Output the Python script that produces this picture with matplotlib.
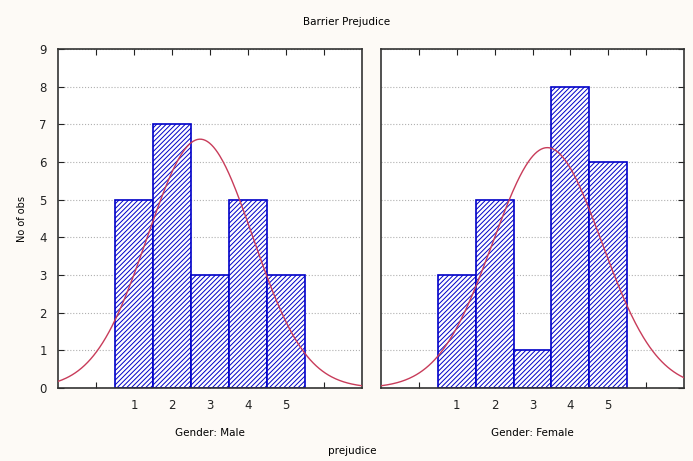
import numpy as np
import matplotlib.pyplot as plt

# prejudice scores and counts per gender
scores = [1, 2, 3, 4, 5]
male_counts = [5, 7, 3, 5, 3]
female_counts = [3, 5, 1, 8, 6]
panels = [("Gender: Male", male_counts), ("Gender: Female", female_counts)]

plt.rcParams['hatch.color'] = '#3a3a96'
plt.rcParams['hatch.linewidth'] = 0.7

fig = plt.figure(figsize=(6.93, 4.61), dpi=100, facecolor='#fdfaf6')
positions = [[0.0837, 0.1583, 0.4387, 0.7354], [0.5498, 0.1583, 0.4372, 0.7354]]

for i, (label, counts) in enumerate(panels):
    ax = fig.add_axes(positions[i])
    ax.set_facecolor('white')
    ax.bar(scores, counts, width=1.0, facecolor='white', edgecolor='#0000c8',
           hatch='///////', linewidth=1.2, zorder=2)

    # fitted normal curve scaled to counts
    obs = np.repeat(scores, counts)
    mu, sd = obs.mean(), obs.std(ddof=1)
    xs = np.linspace(-1, 7, 300)
    ys = len(obs) / (sd * np.sqrt(2 * np.pi)) * np.exp(-0.5 * ((xs - mu) / sd) ** 2)
    ax.plot(xs, ys, color='#c83c5a', linewidth=1.0, zorder=3)

    ax.set_xlim(-1, 7)
    ax.set_ylim(0, 9)
    ax.set_xticks(range(0, 7))
    ax.set_xticklabels([''] + [str(s) for s in scores] + [''])
    ax.set_yticks(range(0, 10))
    ax.yaxis.grid(True, linestyle=':', color='#b0b0b0', linewidth=0.8, zorder=0)
    ax.set_axisbelow(True)
    ax.tick_params(direction='in', length=4, labelsize=8.5, colors='#222222', pad=8)
    if i == 0:
        ax.tick_params(left=True, right=False, top=True, bottom=True)
        ax.set_ylabel("No of obs", fontsize=7)
        ax.yaxis.set_label_coords(-0.103, 0.5)
    else:
        ax.tick_params(left=False, right=True, top=True, bottom=True, labelleft=False)
    ax.set_xlabel(label, fontsize=7.5)
    ax.xaxis.set_label_coords(0.5, -0.118)
    for sp in ax.spines.values():
        sp.set_color('#333333')
        sp.set_linewidth(1.2)

fig.text(0.5, 0.952, "Barrier Prejudice", ha='center', va='center', fontsize=7.5)
fig.text(0.508, 0.021, "prejudice", ha='center', va='center', fontsize=7.5)

fig.savefig('out.png', dpi=100, facecolor=fig.get_facecolor())
